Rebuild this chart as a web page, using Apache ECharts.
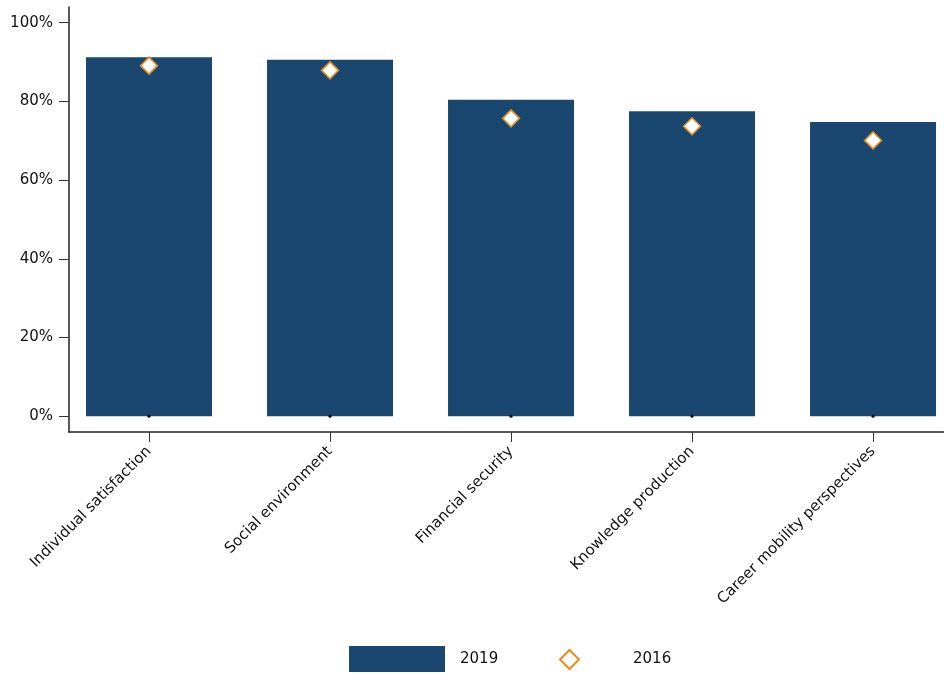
<!DOCTYPE html>
<html>
<head>
<meta charset="utf-8">
<script src="https://cdn.jsdelivr.net/npm/echarts@6/dist/echarts.min.js"></script>
<style>
  html, body { margin: 0; padding: 0; background: #fff; }
  #chart { width: 944px; height: 673px; }
</style>
</head>
<body>
<div id="chart"></div>
<script>
// categories and values (percent)
var categories = ["Individual satisfaction", "Social environment", "Financial security", "Knowledge production", "Career mobility perspectives"];
var values2019 = [91.2, 90.6, 80.4, 77.5, 74.8];
var values2016 = [89.1, 87.9, 75.7, 73.7, 70.1];
var baseMarks = [0, 0, 0, 0, 0]; // small dots at the bar base
var yTicks = [0, 20, 40, 60, 80, 100];
var xTicks = [0, 1, 2, 3, 4];

var navy = "#1a476f";
var orange = "#e8891e";
var font = "DejaVu Sans";

var chart = echarts.init(document.getElementById("chart"));

var option = {
  animation: false,
  textStyle: { fontFamily: font },
  grid: { left: 69, right: 0, top: 7, bottom: 241, containLabel: false },
  xAxis: {
    type: "value",
    min: -0.442,
    max: 4.392,
    splitLine: { show: false },
    axisLine: { show: true, onZero: false, lineStyle: { color: "#222", width: 1.5 } },
    axisTick: { show: true, customValues: xTicks, length: 10, lineStyle: { color: "#333", width: 1 } },
    axisLabel: {
      show: true,
      customValues: xTicks,
      rotate: 45,
      margin: 17,
      fontSize: 15,
      color: "#111",
      fontFamily: font,
      formatter: function (v) { return categories[Math.round(v)] || ""; }
    }
  },
  yAxis: {
    type: "value",
    min: -4,
    max: 104,
    splitLine: { show: false },
    axisLine: { show: true, onZero: false, lineStyle: { color: "#222", width: 1.5 } },
    axisTick: { show: true, customValues: yTicks, length: 10, lineStyle: { color: "#333", width: 1 } },
    axisLabel: {
      show: true,
      customValues: yTicks,
      margin: 16,
      fontSize: 15,
      color: "#111",
      fontFamily: font,
      formatter: function (v) { return v + "%"; }
    }
  },
  legend: [
    {
      data: ["2019"],
      left: 349,
      top: 646,
      padding: 0,
      itemWidth: 96,
      itemHeight: 26,
      icon: "rect",
      textStyle: { fontSize: 15, color: "#111", fontFamily: font, padding: [0, 0, 0, 10] }
    },
    {
      data: ["2016"],
      left: 559,
      top: 649,
      padding: 0,
      itemWidth: 19,
      itemHeight: 19,
      textStyle: { fontSize: 15, color: "#111", fontFamily: font, padding: [0, 0, 0, 49] }
    }
  ],
  series: [
    {
      name: "2019",
      type: "bar",
      barWidth: 126,
      itemStyle: { color: navy },
      data: values2019.map(function (v, i) { return [xTicks[i], v]; }),
      z: 2
    },
    {
      name: "2016",
      type: "scatter",
      symbol: "diamond",
      symbolSize: 17,
      itemStyle: { color: "#fff", opacity: 1, borderColor: orange, borderWidth: 1.5 },
      data: values2016.map(function (v, i) { return [xTicks[i], v]; }),
      z: 4
    },
    {
      name: "base",
      type: "scatter",
      symbol: "circle",
      symbolSize: 3,
      silent: true,
      itemStyle: { color: "#000", opacity: 1 },
      data: baseMarks.map(function (v, i) { return [xTicks[i], v]; }),
      z: 3
    }
  ]
};

chart.setOption(option);
</script>
</body>
</html>
